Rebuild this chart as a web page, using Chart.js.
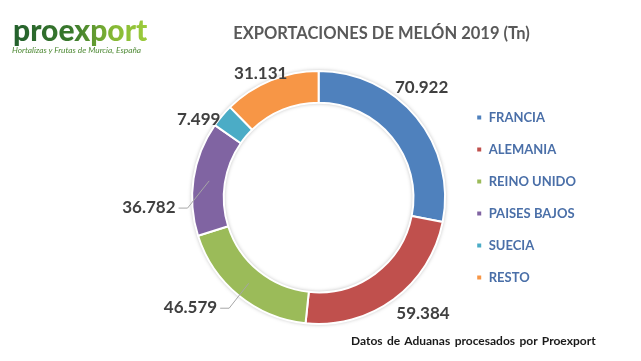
<!DOCTYPE html>
<html>
<head>
<meta charset="utf-8">
<script src="https://cdn.jsdelivr.net/npm/chart.js@4/dist/chart.umd.min.js"></script>
<style>
    body { margin: 0; background: #fff; }
    #wrap { position: relative; width: 641px; height: 361px; overflow: hidden; font-family: Lato, sans-serif; }
    #myChart { position: absolute; left: 0; top: 0; }
    .logo { position: absolute; left: 13px; top: 9px; font-size: 30px; font-weight: 900; letter-spacing: 0;
        background: linear-gradient(90deg, #23602c 0%, #3b7a2c 45%, #86b935 75%, #9ccb3c 100%);
        -webkit-background-clip: text; background-clip: text; color: transparent; line-height: 40px; }
    .logo-sub { position: absolute; left: 12px; top: 44px; font-size: 8.3px; line-height: 12px; font-style: italic; color: #4f8a35; }
    .title { position: absolute; left: 0; top: 23px; width: 641px; padding-left: 122px; box-sizing: border-box; text-align: center;
        font-size: 16.5px; font-weight: bold; color: #595959; }
    .source { position: absolute; left: 351px; top: 333px; font-size: 12px; font-weight: bold; color: #1a1a1a; word-spacing: 1.5px; }
</style>
</head>
<body>
<div id="wrap">
    <canvas id="myChart" width="641" height="361"></canvas>
    <div class="logo">proexport</div>
    <div class="logo-sub">Hortalizas y Frutas de Murcia, España</div>
    <div class="title">EXPORTACIONES DE MELÓN 2019 (Tn)</div>
    <div class="source">Datos de Aduanas procesados por Proexport</div>
</div>
<script>
const countries = ['FRANCIA', 'ALEMANIA', 'REINO UNIDO', 'PAISES BAJOS', 'SUECIA', 'RESTO'];
const tonnes = [70922, 59384, 46579, 36782, 7499, 31131];
const sliceColors = ['#4f81bd', '#c0504d', '#9bbb59', '#8064a2', '#4bacc6', '#f79646'];

// where Excel put each value label: angle from 12 o'clock (deg), distance from centre, leader line
const labelPlacement = [
    {deg: 43, dist: 151, leader: false},
    {deg: 138, dist: 156, leader: false},
    {deg: 229.3, dist: 169, leader: true},
    {deg: 266.6, dist: 170, leader: true},
    {deg: 303, dist: 143, leader: false},
    {deg: 335, dist: 137, leader: false}
];

function fmt(v) {
    return String(v).replace(/\B(?=(\d{3})+(?!\d))/g, '.');
}

const ringShadow = {
    id: 'ringShadow',
    beforeDatasetsDraw(chart) {
        const arc = chart.getDatasetMeta(0).data[0];
        if (!arc) return;
        const {x, y, innerRadius, outerRadius} = arc.getProps(['x', 'y', 'innerRadius', 'outerRadius'], true);
        const ctx = chart.ctx;
        ctx.save();
        ctx.shadowColor = 'rgba(0,0,0,0.35)';
        ctx.shadowBlur = 4;
        ctx.fillStyle = '#fff';
        ctx.beginPath();
        ctx.arc(x, y, outerRadius, 0, Math.PI * 2);
        ctx.arc(x, y, innerRadius, 0, Math.PI * 2, true);
        ctx.fill();
        ctx.restore();
    }
};

const valueLabels = {
    id: 'valueLabels',
    afterDatasetsDraw(chart) {
        const ctx = chart.ctx;
        const meta = chart.getDatasetMeta(0);
        ctx.save();
        ctx.font = 'bold 17px Lato';
        ctx.fillStyle = '#404040';
        ctx.textAlign = 'center';
        ctx.textBaseline = 'middle';
        meta.data.forEach((arc, i) => {
            const p = arc.getProps(['x', 'y', 'startAngle', 'endAngle', 'innerRadius', 'outerRadius'], true);
            const place = labelPlacement[i];
            const a = place.deg * Math.PI / 180 - Math.PI / 2;
            const lx = p.x + place.dist * Math.cos(a);
            const ly = p.y + place.dist * Math.sin(a);
            const text = fmt(tonnes[i]);
            ctx.fillText(text, lx, ly);
            if (place.leader) {
                const w = ctx.measureText(text).width;
                const mid = (p.startAngle + p.endAngle) / 2;
                const r = (p.innerRadius + p.outerRadius) / 2;
                ctx.beginPath();
                ctx.strokeStyle = '#a6a6a6';
                ctx.lineWidth = 1;
                ctx.moveTo(lx + w / 2 + 3, ly + 0.5);
                ctx.lineTo(lx + w / 2 + 12, ly + 0.5);
                ctx.lineTo(p.x + r * Math.cos(mid), p.y + r * Math.sin(mid));
                ctx.stroke();
            }
        });
        ctx.restore();
    }
};

const ctx = document.getElementById('myChart').getContext('2d');
const myChart = new Chart(ctx, {
    type: 'doughnut',
    data: {
        labels: countries,
        datasets: [{
            data: tonnes,
            backgroundColor: sliceColors,
            borderColor: '#fff',
            borderWidth: 2
        }]
    },
    options: {
        responsive: false,
        animation: false,
        cutout: '75%',
        layout: {padding: {top: 70, bottom: 36, left: 180, right: 55}},
        plugins: {
            legend: {
                position: 'right',
                labels: {
                    boxWidth: 6,
                    boxHeight: 6,
                    padding: 19,
                    color: '#4a6fa8',
                    font: {family: 'Lato', weight: 'bold', size: 13}
                }
            },
            tooltip: {enabled: false}
        }
    },
    plugins: [ringShadow, valueLabels]
});
</script>
</body>
</html>
